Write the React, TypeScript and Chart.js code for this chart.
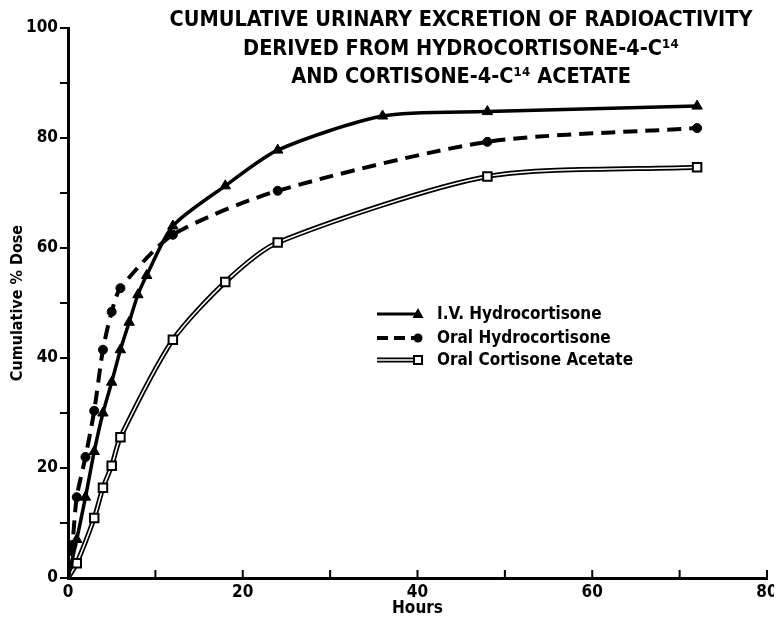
import React, { useEffect, useRef } from "react";
import { Chart, registerables } from "chart.js";

Chart.register(...registerables);

// ---- data (hours, cumulative % dose) ----
const ivHours = [0, 1, 2, 3, 4, 5, 6, 7, 8, 9, 12, 18, 24, 36, 48, 72];
const ivDose = [0, 7, 14.7, 23, 30, 35.6, 41.5, 46.5, 51.5, 55, 64, 71.3, 77.8, 84, 84.8, 85.8];

const oralHcHours = [0, 0.5, 1, 2, 3, 4, 5, 6, 12, 24, 48, 72];
const oralHcDose = [0, 6, 14.7, 22, 30.4, 41.5, 48.4, 52.7, 62.4, 70.4, 79.3, 81.8];

const oralCaHours = [0, 1, 3, 4, 5, 6, 12, 18, 24, 48, 72];
const oralCaDose = [0, 2.7, 10.9, 16.4, 20.4, 25.6, 43.3, 53.8, 61, 73, 74.7];

const titleLines = [
  "CUMULATIVE URINARY EXCRETION OF RADIOACTIVITY",
  "DERIVED FROM HYDROCORTISONE-4-C¹⁴",
  "AND CORTISONE-4-C¹⁴ ACETATE",
];
const legendLabels = ["I.V. Hydrocortisone", "Oral Hydrocortisone", "Oral Cortisone Acetate"];
const xTitle = "Hours";
const yTitle = "Cumulative % Dose";

const FONT = "'DejaVu Sans Condensed', 'Liberation Sans Narrow', 'DejaVu Sans', sans-serif";

const pts = (xs: number[], ys: number[]) => xs.map((x, i) => ({ x, y: ys[i] }));

const noFirst = (r: number) => (ctx: any) => (ctx.dataIndex === 0 ? 0 : r);

const TENSION = 0.25;

const decorPlugin = {
  id: "decor",
  afterDraw(chart: any) {
    const ctx = chart.ctx as CanvasRenderingContext2D;
    const xs = chart.scales.x;
    const area = chart.chartArea;
    ctx.save();
    // x ticks pointing up
    ctx.strokeStyle = "#000";
    ctx.lineWidth = 2;
    for (let v = 10; v <= 80; v += 10) {
      const px = xs.getPixelForValue(v);
      ctx.beginPath();
      ctx.moveTo(px, area.bottom);
      ctx.lineTo(px, area.bottom - 8);
      ctx.stroke();
    }
    // title
    ctx.fillStyle = "#000";
    ctx.textAlign = "center";
    ctx.textBaseline = "middle";
    ctx.font = `bold 21.5px ${FONT}`;
    const tx = 453;
    const ty = [12, 41, 69];
    titleLines.forEach((t, i) => ctx.fillText(t, tx, ty[i]));

    // legend
    const rows = [306, 330, 352];
    const lx0 = 369;
    const lx1 = 410;
    ctx.textAlign = "left";
    ctx.font = `bold 17px ${FONT}`;
    // row 1
    ctx.setLineDash([]);
    ctx.lineWidth = 3;
    ctx.beginPath();
    ctx.moveTo(lx0, rows[0]);
    ctx.lineTo(lx1, rows[0]);
    ctx.stroke();
    ctx.beginPath();
    ctx.moveTo(lx1, rows[0] - 6);
    ctx.lineTo(lx1 + 5.5, rows[0] + 4);
    ctx.lineTo(lx1 - 5.5, rows[0] + 4);
    ctx.closePath();
    ctx.fill();
    // row 2
    ctx.lineWidth = 4;
    ctx.setLineDash([11, 6]);
    ctx.beginPath();
    ctx.moveTo(lx0, rows[1]);
    ctx.lineTo(lx1, rows[1]);
    ctx.stroke();
    ctx.setLineDash([]);
    ctx.beginPath();
    ctx.arc(lx1, rows[1], 4.5, 0, Math.PI * 2);
    ctx.fill();
    // row 3
    ctx.lineWidth = 5;
    ctx.beginPath();
    ctx.moveTo(lx0, rows[2]);
    ctx.lineTo(lx1, rows[2]);
    ctx.stroke();
    ctx.strokeStyle = "#fff";
    ctx.lineWidth = 1.5;
    ctx.beginPath();
    ctx.moveTo(lx0, rows[2]);
    ctx.lineTo(lx1, rows[2]);
    ctx.stroke();
    ctx.fillStyle = "#fff";
    ctx.strokeStyle = "#000";
    ctx.lineWidth = 2;
    ctx.fillRect(lx1 - 4, rows[2] - 4, 8, 8);
    ctx.strokeRect(lx1 - 4, rows[2] - 4, 8, 8);
    ctx.fillStyle = "#000";
    legendLabels.forEach((t, i) => ctx.fillText(t, 429, rows[i] + 1));
    ctx.restore();
  },
};

export default function App() {
  const ref = useRef<HTMLCanvasElement>(null);
  useEffect(() => {
    if (!ref.current) return;
    const chart = new Chart(ref.current, {
      type: "line",
      data: {
        datasets: [
          {
            label: legendLabels[0],
            data: pts(ivHours, ivDose),
            borderColor: "#000",
            backgroundColor: "#000",
            borderWidth: 3.5,
            pointStyle: "triangle",
            pointRadius: noFirst(6),
            pointBorderWidth: 1,
            tension: TENSION,
            order: 1,
          },
          {
            label: legendLabels[1],
            data: pts(oralHcHours, oralHcDose),
            borderColor: "#000",
            backgroundColor: "#000",
            borderWidth: 4,
            borderDash: [14, 8],
            pointStyle: "circle",
            pointRadius: noFirst(4.5),
            pointBorderWidth: 1,
            tension: TENSION,
            order: 1,
          },
          {
            label: legendLabels[2] + " inner",
            data: pts(oralCaHours, oralCaDose),
            borderColor: "#fff",
            backgroundColor: "#fff",
            borderWidth: 1.5,
            pointStyle: "rect",
            pointRadius: noFirst(6),
            pointBorderColor: "#000",
            pointBackgroundColor: "#fff",
            pointBorderWidth: 2,
            tension: TENSION,
            order: 1,
          },
          {
            label: legendLabels[2],
            data: pts(oralCaHours, oralCaDose),
            borderColor: "#000",
            backgroundColor: "#000",
            borderWidth: 5,
            pointRadius: 0,
            tension: TENSION,
            order: 2,
          },
        ],
      },
      options: {
        animation: false,
        responsive: true,
        maintainAspectRatio: false,
        layout: { padding: { top: 20, right: 15, bottom: 0, left: 0 } },
        plugins: {
          legend: { display: false },
          tooltip: { enabled: false },
          title: { display: false },
        },
        scales: {
          x: {
            type: "linear",
            min: 0,
            max: 80,
            afterFit: (s: any) => {
              s.height = 42;
            },
            border: { display: true, color: "#000", width: 3 },
            grid: { drawOnChartArea: false, drawTicks: false },
            ticks: {
              stepSize: 10,
              autoSkip: false,
              maxRotation: 0,
              padding: 4,
              color: "#000",
              font: { family: FONT, size: 17, weight: "bold" },
              callback: (v: any) => (Number(v) % 20 === 0 ? String(v) : ""),
            },
            title: {
              display: true,
              text: xTitle,
              color: "#000",
              padding: { top: 0, bottom: 1 },
              font: { family: FONT, size: 17, weight: "bold" },
            },
          },
          y: {
            type: "linear",
            min: 0,
            max: 100,
            afterFit: (s: any) => {
              s.width = 60;
            },
            border: { display: true, color: "#000", width: 3 },
            grid: { drawOnChartArea: false, drawTicks: true, tickLength: 8, color: "#000", lineWidth: 2 },
            ticks: {
              stepSize: 10,
              autoSkip: false,
              padding: 2,
              color: "#000",
              font: { family: FONT, size: 17, weight: "bold" },
              callback: (v: any) => (Number(v) % 20 === 0 ? String(v) : ""),
            },
            title: {
              display: true,
              text: yTitle,
              color: "#000",
              padding: { top: 0, bottom: 0 },
              font: { family: FONT, size: 16, weight: "bold" },
            },
          },
        },
      },
      plugins: [decorPlugin],
    });
    return () => chart.destroy();
  }, []);
  return (
    <div style={{ position: "relative", width: 774, height: 612 }}>
      <canvas ref={ref} />
    </div>
  );
}
